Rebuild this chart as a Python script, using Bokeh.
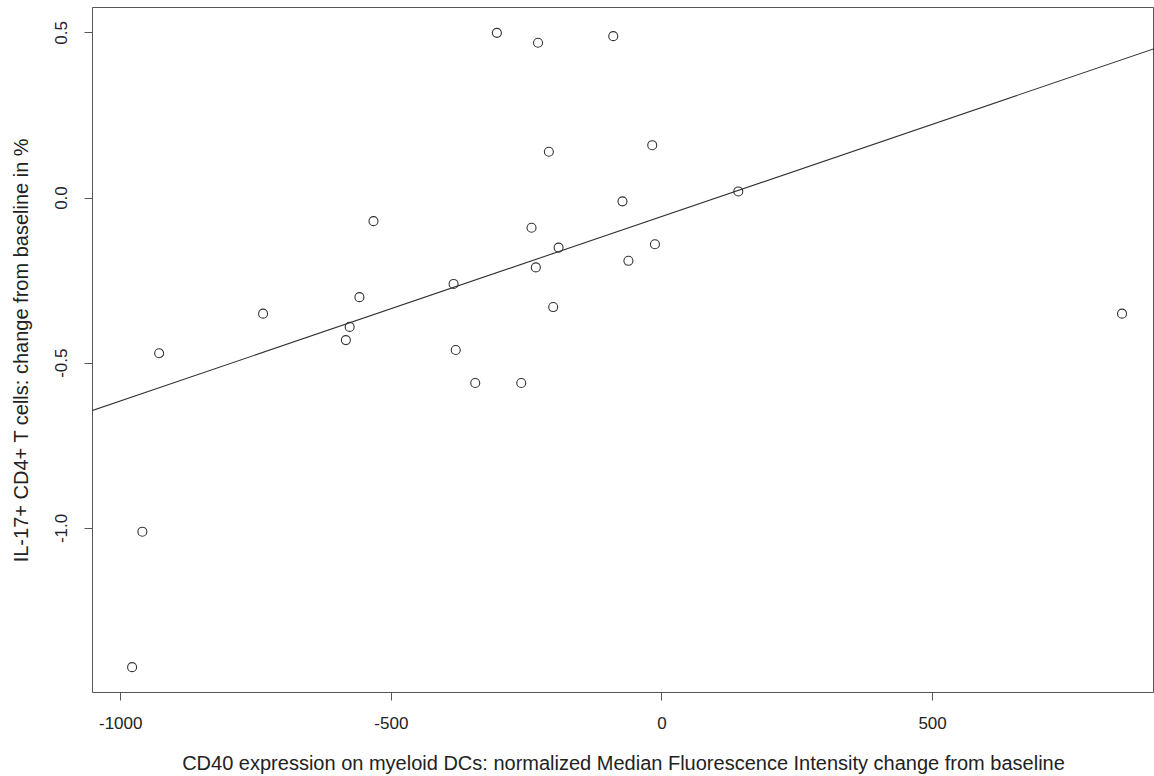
import numpy as np
from bokeh.plotting import figure
from bokeh.models import Range1d, FixedTicker, NumeralTickFormatter, Slope, ColumnDataSource
from bokeh.embed import file_html
from bokeh.resources import INLINE

# CD40 expression change (normalized MFI) on myeloid DCs
cd40_change = [-979, -960, -929, -737, -584, -577, -559, -533, -385, -381,
               -345, -305, -260, -241, -233, -229, -209, -201, -191, -90,
               -73, -62, -18, -13, 141, 850]
# IL-17+ CD4+ T cells change from baseline in %
il17_change = [-1.42, -1.01, -0.47, -0.35, -0.43, -0.39, -0.30, -0.07, -0.26, -0.46,
               -0.56, 0.50, -0.56, -0.09, -0.21, 0.47, 0.14, -0.33, -0.15, 0.49,
               -0.01, -0.19, 0.16, -0.14, 0.02, -0.35]

x_ticks = [-1000, -500, 0, 500]
y_ticks = [-1.0, -0.5, 0.0, 0.5]

x_label = "CD40 expression on myeloid DCs: normalized Median Fluorescence Intensity change from baseline"
y_label = "IL-17+ CD4+ T cells: change from baseline in %"

FONT = "Liberation Sans"
TXT = "#222222"
LINE = "#555555"

xs = np.array(cd40_change, dtype=float)
ys = np.array(il17_change, dtype=float)
xr = xs.max() - xs.min()
yr = ys.max() - ys.min()

p = figure(width=1154, height=776, output_backend="svg", toolbar_location=None,
           x_range=Range1d(xs.min() - 0.04 * xr, 910),
           y_range=Range1d(ys.min() - 0.04 * yr, ys.max() + 0.04 * yr),
           min_border_left=92, min_border_right=0, min_border_top=7, min_border_bottom=84)
p.background_fill_color = "white"
p.border_fill_color = "white"
p.outline_line_color = LINE
p.outline_line_width = 1
p.grid.visible = False

for ax in (p.xaxis[0], p.yaxis[0]):
    ax.axis_line_color = None
    ax.major_tick_line_color = LINE
    ax.major_tick_in = 0
    ax.major_tick_out = 8
    ax.minor_tick_line_color = None
    ax.major_label_text_font = FONT
    ax.major_label_text_font_size = "17px"
    ax.major_label_text_color = TXT
    ax.axis_label_text_font = FONT
    ax.axis_label_text_font_size = "20px"
    ax.axis_label_text_font_style = "normal"
    ax.axis_label_text_color = TXT

p.xaxis.ticker = FixedTicker(ticks=x_ticks)
p.yaxis.ticker = FixedTicker(ticks=y_ticks)
p.xaxis.formatter = NumeralTickFormatter(format="0")
p.yaxis.formatter = NumeralTickFormatter(format="0.0")
p.yaxis.major_label_orientation = "vertical"
p.xaxis.axis_label = x_label
p.yaxis.axis_label = y_label
p.xaxis.major_label_standoff = 16
p.xaxis.axis_label_standoff = 20
p.yaxis.major_label_standoff = 17
p.yaxis.axis_label_standoff = 21

src = ColumnDataSource(dict(x=cd40_change, y=il17_change))
p.scatter("x", "y", source=src, marker="circle", size=9, fill_color=None,
          line_color="#333333", line_width=1.1)

m, b = np.polyfit(xs, ys, 1)
p.add_layout(Slope(gradient=float(m), y_intercept=float(b), line_color="#333333", line_width=1.1))

open("out.html", "w").write(file_html(p, INLINE))
